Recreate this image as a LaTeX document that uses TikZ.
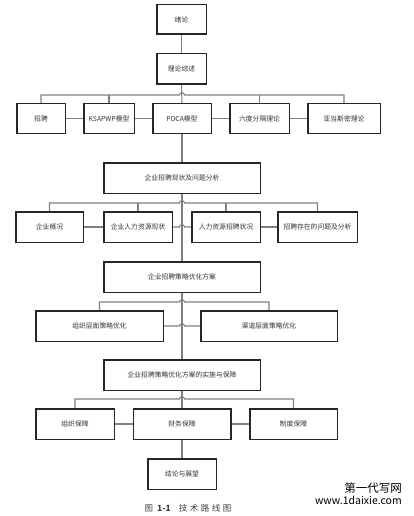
\documentclass[tikz,border=0pt]{standalone}
\usepackage{fontspec}
\newfontfamily\cjk{Noto Sans CJK SC}
\begin{document}
\begin{tikzpicture}[x=1pt,y=-1pt,
  box/.style={draw=black!85,line width=1pt,fill=white,inner sep=0pt,
    font=\cjk\fontsize{6.8}{8}\selectfont,text=black!80},
  conn/.style={draw=black!50,line width=1.1pt}]
\useasboundingbox (0,0) rectangle (413,516);
% boxes
\node[box,minimum width=49pt,minimum height=29pt] (a) at (181.5,19.5) {绪论};
\node[box,minimum width=49pt,minimum height=30pt] (b) at (181.5,69) {理论综述};
\node[box,minimum width=48pt,minimum height=29pt] (c1) at (41,118.5) {招聘};
\node[box,minimum width=50pt,minimum height=29pt] (c2) at (109,118.5) {KSAPWP模型};
\node[box,minimum width=58pt,minimum height=29pt] (c3) at (182,118.5) {PDCA模型};
\node[box,minimum width=59pt,minimum height=29pt] (c4) at (259.5,118.5) {六度分隔理论};
\node[box,minimum width=72pt,minimum height=29pt] (c5) at (344,118.5) {亚当斯密理论};
\node[box,minimum width=156pt,minimum height=30pt] (d) at (182,178) {企业招聘现状及问题分析};
\node[box,minimum width=67pt,minimum height=30pt] (e1) at (49.5,227) {企业概况};
\node[box,minimum width=68pt,minimum height=30pt] (e2) at (138,227) {企业人力资源现状};
\node[box,minimum width=68pt,minimum height=30pt] (e3) at (226,227) {人力资源招聘状况};
\node[box,minimum width=79pt,minimum height=30pt] (e4) at (317.5,227) {招聘存在的问题及分析};
\node[box,minimum width=156pt,minimum height=30pt] (f) at (182,277) {企业招聘策略优化方案};
\node[box,minimum width=127pt,minimum height=30pt] (g1) at (99.5,326) {组织层面策略优化};
\node[box,minimum width=136pt,minimum height=30pt] (g2) at (269,326) {渠道层面策略优化};
\node[box,minimum width=156pt,minimum height=30pt] (h) at (182,375) {企业招聘策略优化方案的实施与保障};
\node[box,minimum width=78pt,minimum height=30pt] (i1) at (75,424) {组织保障};
\node[box,minimum width=97pt,minimum height=30pt] (i2) at (182,424) {财务保障};
\node[box,minimum width=87pt,minimum height=30pt] (i3) at (293.5,424) {制度保障};
\node[box,minimum width=68pt,minimum height=30pt] (j) at (182,474) {结论与展望};
% bus coordinates
\coordinate (bus1) at (0,95);
\coordinate (bus2) at (0,203);
\coordinate (bus3) at (0,302);
\coordinate (bus4) at (0,399);
\coordinate (h1a) at (179.5,95);  \coordinate (h1b) at (184.5,95);
\coordinate (h2a) at (179.5,203); \coordinate (h2b) at (184.5,203);
\coordinate (h3a) at (179.5,302); \coordinate (h3b) at (184.5,302);
\coordinate (h4a) at (179.5,399); \coordinate (h4b) at (184.5,399);
\coordinate (r2a) at (179.5,227); \coordinate (r2b) at (184.5,227);
\coordinate (r3a) at (179.5,326); \coordinate (r3b) at (184.5,326);
% main vertical spine
\draw[conn] (a.south) -- (b.north);
\draw[conn] (b.south) -- (c3.north);
\draw[conn] (c3.south) -- (d.north);
\draw[conn] (d.south) -- (f.north);
\draw[conn] (f.south) -- (h.north);
\draw[conn] (h.south) -- (i2.north);
\draw[conn] (i2.south) -- (j.north);
% bus 1
\draw[conn] (c1.north) -- (c1.north |- bus1) -- (h1a) .. controls (179.5,92) and (184.5,92) .. (h1b) -- (c5.north |- bus1) -- (c5.north);
\draw[conn] (c2.north) -- (c2.north |- bus1);
\draw[conn] (c4.north) -- (c4.north |- bus1);
% bus 2
\draw[conn] (e1.north) -- (e1.north |- bus2) -- (h2a) .. controls (179.5,200) and (184.5,200) .. (h2b) -- (e4.north |- bus2) -- (e4.north);
\draw[conn] (e2.north) -- (e2.north |- bus2);
\draw[conn] (e3.north) -- (e3.north |- bus2);
% bus 3
\draw[conn] (g1.north) -- (g1.north |- bus3) -- (h3a) .. controls (179.5,299) and (184.5,299) .. (h3b) -- (g2.north |- bus3) -- (g2.north);
% bus 4
\draw[conn] (i1.north) -- (i1.north |- bus4) -- (h4a) .. controls (179.5,396) and (184.5,396) .. (h4b) -- (i3.north |- bus4) -- (i3.north);
% row connectors
\draw[conn] (c1.east) -- (c2.west);
\draw[conn] (c2.east) -- (c3.west);
\draw[conn] (c3.east) -- (c4.west);
\draw[conn] (c4.east) -- (c5.west);
\draw[conn] (e1.east) -- (e2.west);
\draw[conn] (e2.east) -- (r2a) .. controls (179.5,224) and (184.5,224) .. (r2b) -- (e3.west);
\draw[conn] (e3.east) -- (e4.west);
\draw[conn] (g1.east) -- (r3a) .. controls (179.5,323) and (184.5,323) .. (r3b) -- (g2.west);
\draw[conn] (i1.east) -- (i2.west);
\draw[conn] (i2.east) -- (i3.west);
% redraw box borders on top
\foreach \n in {a,b,c1,c2,c3,c4,c5,d,e1,e2,e3,e4,f,g1,g2,h,i1,i2,i3,j}{
  \draw[draw=black!85,line width=1pt] (\n.north west) rectangle (\n.south east);}
% caption
\node[font=\cjk\fontsize{8.5}{10}\selectfont,text=black!75] (cap) at (188,508) {图\hspace{4pt}\textbf{1-1}\hspace{8pt}技\hspace{2.5pt}术\hspace{2.5pt}路\hspace{2.5pt}线\hspace{2.5pt}图};
% watermark
\node[anchor=south east,font=\cjk\fontsize{11.5}{12}\selectfont,inner sep=0pt] (wm1) at (402,494) {第一代写网};
\node[anchor=north east,font=\cjk\fontsize{10.5}{12}\selectfont,inner sep=0pt] (wm2) at (402,496) {www.1daixie.com};
\end{tikzpicture}
\end{document}
